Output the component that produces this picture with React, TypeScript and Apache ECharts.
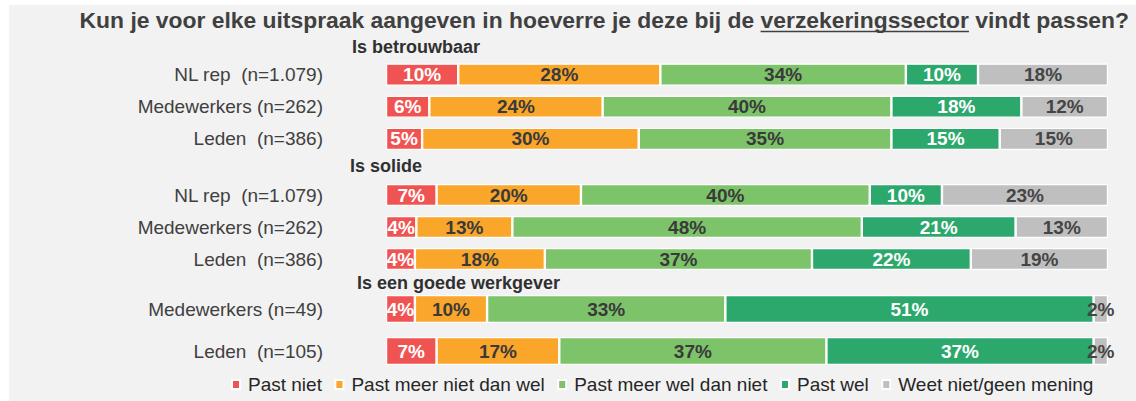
import React, { useEffect, useRef } from "react";
import * as echarts from "echarts";

const TITLE_PRE = "Kun je voor elke uitspraak aangeven in hoeverre je deze bij de ";
const TITLE_UL = "verzekeringssector";
const TITLE_POST = " vindt passen?";

const legendNames = [
  "Past niet",
  "Past meer niet dan wel",
  "Past meer wel dan niet",
  "Past wel",
  "Weet niet/geen mening",
];
const colors = ["#F05452", "#F9A62B", "#7CC36A", "#2DA86D", "#BFBFBF"];
const labelColors = ["#ffffff", "#3a3a3a", "#3a3a3a", "#ffffff", "#454545"];

const groupTitles = ["Is betrouwbaar", "Is solide", "Is een goede werkgever"];

const catsBetrouwbaar = ["NL rep  (n=1.079)", "Medewerkers (n=262)", "Leden  (n=386)"];
const catsSolide = ["NL rep  (n=1.079)", "Medewerkers (n=262)", "Leden  (n=386)"];
const catsWerkgever = ["Medewerkers (n=49)", "Leden  (n=105)"];

// Is betrouwbaar
const betrouwbaarPastNiet = [10, 6, 5];
const betrouwbaarMeerNiet = [28, 24, 30];
const betrouwbaarMeerWel = [34, 40, 35];
const betrouwbaarPastWel = [10, 18, 15];
const betrouwbaarWeetNiet = [18, 12, 15];

// Is solide
const solidePastNiet = [7, 4.2, 4];
const solideMeerNiet = [20, 13.3, 18];
const solideMeerWel = [40, 48.4, 37];
const solidePastWel = [10, 21.3, 22];
const solideWeetNiet = [23, 12.8, 19];

// Is een goede werkgever
const werkgeverPastNiet = [4, 7];
const werkgeverMeerNiet = [10, 17];
const werkgeverMeerWel = [33, 37];
const werkgeverPastWel = [51, 37];
const werkgeverWeetNiet = [2, 2];

const FONT = '"Liberation Sans", Arial, sans-serif';
const TITLE_FONT = '"Liberation Sans Narrow", "Liberation Sans", Arial, sans-serif';

export default function App() {
  const ref = useRef<HTMLDivElement>(null);

  useEffect(() => {
    if (!ref.current) return;
    const chart = echarts.init(ref.current, undefined, { renderer: "svg" });

    // fit the title to its width
    const canvas = document.createElement("canvas");
    const ctx = canvas.getContext("2d")!;
    const baseSize = 20;
    ctx.font = `bold ${baseSize}px ${TITLE_FONT}`;
    const full = ctx.measureText(TITLE_PRE + TITLE_UL + TITLE_POST).width;
    const targetW = 1050;
    const tSize = (baseSize * targetW) / full;
    ctx.font = `bold ${tSize}px ${TITLE_FONT}`;
    const wPre = ctx.measureText(TITLE_PRE).width;
    const wUl = ctx.measureText(TITLE_UL).width;
    const wAll = ctx.measureText(TITLE_PRE + TITLE_UL + TITLE_POST).width;
    const titleRight = 1129;
    const titleLeft = titleRight - wAll;
    const titleY = 20;

    const groups = [
      {
        cats: catsBetrouwbaar,
        data: [betrouwbaarPastNiet, betrouwbaarMeerNiet, betrouwbaarMeerWel, betrouwbaarPastWel, betrouwbaarWeetNiet],
        top: 58.5,
        height: 96.5,
        bw: 22,
      },
      {
        cats: catsSolide,
        data: [solidePastNiet, solideMeerNiet, solideMeerWel, solidePastWel, solideWeetNiet],
        top: 179,
        height: 96,
        bw: 22,
      },
      {
        cats: catsWerkgever,
        data: [werkgeverPastNiet, werkgeverMeerNiet, werkgeverMeerWel, werkgeverPastWel, werkgeverWeetNiet],
        top: 288,
        height: 84,
        bw: 28,
      },
    ];

    const grid = groups.map((g) => ({ left: 386, width: 722, top: g.top, height: g.height }));
    const xAxis = groups.map((_, i) => ({
      type: "value" as const,
      gridIndex: i,
      min: 0,
      max: 100,
      show: false,
    }));
    const yAxis = groups.map((g, i) => ({
      type: "category" as const,
      gridIndex: i,
      data: g.cats,
      inverse: true,
      axisLine: { show: false },
      axisTick: { show: false },
      axisLabel: {
        margin: 63,
        fontSize: 19,
        fontFamily: FONT,
        color: "#404040",
      },
    }));

    const series: any[] = [];
    groups.forEach((g, gi) => {
      g.data.forEach((vals, si) => {
        series.push({
          type: "bar",
          name: legendNames[si],
          xAxisIndex: gi,
          yAxisIndex: gi,
          stack: "g" + gi,
          data: vals,
          barWidth: g.bw,
          itemStyle: { color: colors[si], borderColor: "#ffffff", borderWidth: 1.2 },
          label: {
            show: true,
            position: "inside",
            formatter: (p: any) => Math.round(p.value) + "%",
            fontSize: 19,
            fontWeight: "bold",
            fontFamily: FONT,
            color: labelColors[si],
          },
        });
      });
    });

    const headerPos = [
      { x: 352, y: 47 },
      { x: 350, y: 166 },
      { x: 357, y: 283 },
    ];

    chart.setOption({
      animation: false,
      grid,
      xAxis,
      yAxis,
      series,
      legend: {
        data: legendNames,
        icon: "rect",
        itemWidth: 8,
        itemHeight: 9,
        itemGap: 12.5,
        left: 226,
        top: 370,
        textStyle: { fontSize: 19, fontFamily: FONT, color: "#262626", padding: [0, 0, 0, 3] },
      },
      graphic: [
        {
          type: "rect",
          z: -100,
          silent: true,
          shape: { x: 9, y: 5, width: 1200, height: 420 },
          style: { fill: "#f2f2f2" },
        },
        {
          type: "text",
          x: titleLeft,
          y: titleY,
          style: {
            text: TITLE_PRE + TITLE_UL + TITLE_POST,
            fontSize: tSize,
            fontWeight: "bold",
            fontFamily: TITLE_FONT,
            fill: "#404040",
            align: "left",
            verticalAlign: "middle",
            textAlign: "left",
            textVerticalAlign: "middle",
          },
        },
        {
          type: "line",
          shape: {
            x1: titleLeft + wPre,
            y1: titleY + tSize * 0.5,
            x2: titleLeft + wPre + wUl,
            y2: titleY + tSize * 0.5,
          },
          style: { stroke: "#404040", lineWidth: 1.5 },
        },
        ...groupTitles.map((t, i) => ({
          type: "text",
          x: headerPos[i].x,
          y: headerPos[i].y,
          style: {
            text: t,
            fontSize: 18,
            fontWeight: "bold",
            fontFamily: FONT,
            fill: "#303030",
            align: "left",
            verticalAlign: "middle",
            textAlign: "left",
            textVerticalAlign: "middle",
          },
        })),
      ],
    });

    return () => chart.dispose();
  }, []);

  return (
    <div
      ref={ref}
      style={{ position: "fixed", left: 0, top: 0, width: 1136, height: 401, background: "#ffffff" }}
    />
  );
}
